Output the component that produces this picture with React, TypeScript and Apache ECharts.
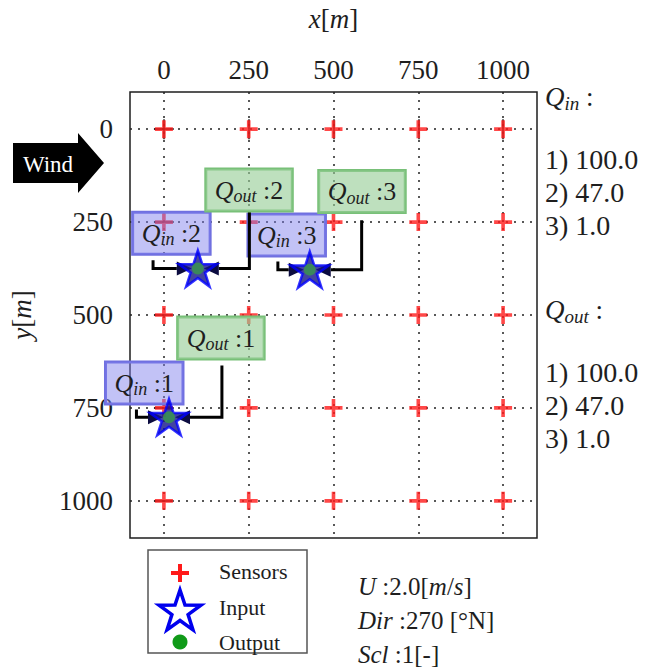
import React, { useEffect, useRef } from "react";
import * as echarts from "echarts";

// ---------- data ----------
const xTicks = [0, 250, 500, 750, 1000];
const yTicks = [0, 250, 500, 750, 1000];
const sensorX = [0, 250, 500, 750, 1000];
const sensorY = [0, 250, 500, 750, 1000];
const inputX = [15, 100, 430];
const inputY = [775, 375, 378];
const outputX = [15, 100, 430];
const outputY = [775, 375, 378];
const qIn = [100.0, 47.0, 1.0];
const qOut = [100.0, 47.0, 1.0];
// annotation label centres and leader-line starts (data units)
const inLabelX = [-58, 22, 362];
const inLabelY = [683, 280, 285];
const outLabelX = [168, 251, 584];
const outLabelY = [562, 164, 168];
const inLeaderX = [-81, -32, 336];
const inLeaderY = [754, 353, 356];
const outLeaderX = [171, 252, 583];
const outLeaderY = [636, 222, 245];
const windSpeed = 2.0;
const windDir = 270;
const scaleVal = 1;
const legendNames = ["Sensors", "Input", "Output"];

const SERIF = "'Liberation Serif', 'Times New Roman', serif";
const INK = "#1e1e1e";

function starPts(cx: number, cy: number, R: number, r: number) {
  const pts: number[][] = [];
  for (let k = 0; k < 10; k++) {
    const ang = -Math.PI / 2 + (k * Math.PI) / 5;
    const rad = k % 2 === 0 ? R : r;
    pts.push([cx + rad * Math.cos(ang), cy + rad * Math.sin(ang)]);
  }
  return pts;
}
const STAR_PATH =
  "path://" +
  starPts(50, 50, 50, 19.1)
    .map((p, i) => (i ? "L" : "M") + p[0].toFixed(2) + "," + p[1].toFixed(2))
    .join(" ") +
  "Z";
const PLUS_PATH = "path://M4,0H6V4H10V6H6V10H4V6H0V4H4Z";

function plusPts(cx: number, cy: number, s: number, t: number) {
  const h = s / 2, w = t / 2;
  return [
    [cx - w, cy - h], [cx + w, cy - h], [cx + w, cy - w], [cx + h, cy - w],
    [cx + h, cy + w], [cx + w, cy + w], [cx + w, cy + h], [cx - w, cy + h],
    [cx - w, cy + w], [cx - h, cy + w], [cx - h, cy - w], [cx - w, cy - w],
  ];
}

const qRich = (size: number, sub: number) => ({
  Q: { fontFamily: SERIF, fontStyle: "italic", fontSize: size, lineHeight: size + 4, fill: INK, color: INK },
  s: { fontFamily: SERIF, fontStyle: "italic", fontSize: sub, lineHeight: sub, verticalAlign: "bottom", fill: INK, color: INK },
  r: { fontFamily: SERIF, fontSize: size, lineHeight: size + 4, fill: INK, color: INK },
  i: { fontFamily: SERIF, fontStyle: "italic", fontSize: size, lineHeight: size + 4, fill: INK, color: INK },
});

export default function App() {
  const ref = useRef<HTMLDivElement>(null);
  useEffect(() => {
    if (!ref.current) return;
    const chart = echarts.init(ref.current, null, { renderer: "svg" });

    const sensorPts: number[][] = [];
    sensorY.forEach((y) => sensorX.forEach((x) => sensorPts.push([x, y])));
    const inputs = inputX.map((x, i) => [x, inputY[i]]);
    const outputs = outputX.map((x, i) => [x, outputY[i]]);
    const ann: number[][] = [];
    inputX.forEach((x, i) =>
      ann.push([x, inputY[i], inLeaderX[i], inLeaderY[i], inLabelX[i], inLabelY[i], 0, i])
    );
    outputX.forEach((x, i) =>
      ann.push([x, outputY[i], outLeaderX[i], outLeaderY[i], outLabelX[i], outLabelY[i], 1, i])
    );

    const tickStyle = { color: INK, width: 1.5 };
    const splitStyle = { color: "#222", width: 1.5, type: [2, 6] as any };

    const annRich = qRich(26, 18);

    const graphic: any[] = [];
    // wind arrow
    graphic.push({
      type: "polygon",
      shape: { points: [[13, 143], [78, 143], [78, 133], [104, 163], [78, 193], [78, 183], [13, 183]] },
      style: { fill: "#000" },
    });
    graphic.push({
      type: "text", x: 48, y: 164,
      style: { text: "Wind", fill: "#fff", fontFamily: SERIF, fontSize: 23, align: "center", verticalAlign: "middle" },
    });
    // right panel
    const rightX = 545;
    const headerRich = qRich(27, 19);
    graphic.push({
      type: "text", x: rightX, y: 97,
      style: { text: "{Q|Q}{s|in}{r| :}", rich: headerRich, align: "left", verticalAlign: "middle" },
    });
    const inRowsY = [159, 192, 225];
    qIn.forEach((v, i) =>
      graphic.push({
        type: "text", x: rightX, y: inRowsY[i],
        style: { text: `${i + 1}) ${v.toFixed(1)}`, fill: INK, fontFamily: SERIF, fontSize: 28, align: "left", verticalAlign: "middle" },
      })
    );
    graphic.push({
      type: "text", x: rightX, y: 310,
      style: { text: "{Q|Q}{s|out}{r| :}", rich: headerRich, align: "left", verticalAlign: "middle" },
    });
    const outRowsY = [372, 405, 438];
    qOut.forEach((v, i) =>
      graphic.push({
        type: "text", x: rightX, y: outRowsY[i],
        style: { text: `${i + 1}) ${v.toFixed(1)}`, fill: INK, fontFamily: SERIF, fontSize: 28, align: "left", verticalAlign: "middle" },
      })
    );
    // legend
    graphic.push({
      type: "rect", shape: { x: 148, y: 550, width: 159, height: 103 },
      style: { fill: "#fff", stroke: "#555", lineWidth: 1.5 },
    });
    graphic.push({ type: "polygon", shape: { points: plusPts(180, 573, 18, 4) }, style: { fill: "#ff1a1a" } });
    graphic.push({
      type: "polygon", shape: { points: starPts(180, 612, 22, 8.5) },
      style: { fill: "#fff", stroke: "#0000ee", lineWidth: 3.5 },
    });
    graphic.push({ type: "circle", shape: { cx: 180, cy: 642, r: 7.5 }, style: { fill: "#109a18" } });
    const legY = [571, 607, 642];
    legendNames.forEach((n, i) =>
      graphic.push({
        type: "text", x: 219, y: legY[i],
        style: { text: n, fill: INK, fontFamily: SERIF, fontSize: 22, align: "left", verticalAlign: "middle" },
      })
    );
    // bottom right parameters
    const pRich = qRich(25, 17);
    graphic.push({
      type: "text", x: 358, y: 586,
      style: { text: `{i|U}{r| :${windSpeed.toFixed(1)}[}{i|m}{r|/}{i|s}{r|]}`, rich: pRich, align: "left", verticalAlign: "middle" },
    });
    graphic.push({
      type: "text", x: 358, y: 620,
      style: { text: `{i|Dir}{r| :${windDir} [°N]}`, rich: pRich, align: "left", verticalAlign: "middle" },
    });
    graphic.push({
      type: "text", x: 358, y: 654,
      style: { text: `{i|Scl}{r| :${scaleVal}[-]}`, rich: pRich, align: "left", verticalAlign: "middle" },
    });

    const nameRich = {
      i: { fontFamily: SERIF, fontStyle: "italic", fontSize: 27, color: INK },
      r: { fontFamily: SERIF, fontSize: 27, color: INK },
    };
    const fmt = (v: number) => String(v);

    chart.setOption({
      animation: false,
      backgroundColor: "#fff",
      grid: {
        left: 123, top: 83, width: 414, height: 455,
        show: true, borderColor: INK, borderWidth: 1.5, backgroundColor: "#fff",
      },
      xAxis: [
        {
          type: "value", position: "top", min: -100, max: 1100,
          name: "{i|x}{r|[}{i|m}{r|]}", nameLocation: "middle", nameGap: 60,
          nameTextStyle: { rich: nameRich },
          axisLine: { show: false },
          axisTick: { show: true, inside: true, length: 10, customValues: xTicks, lineStyle: tickStyle },
          axisLabel: { customValues: xTicks, formatter: fmt, fontFamily: SERIF, fontSize: 27, color: INK, margin: 9 },
          splitLine: { show: true, lineStyle: splitStyle },
        },
        {
          type: "value", position: "bottom", min: -100, max: 1100,
          axisLine: { show: false },
          axisTick: { show: true, inside: true, length: 10, customValues: xTicks, lineStyle: tickStyle },
          axisLabel: { show: false },
          splitLine: { show: false },
        },
      ],
      yAxis: [
        {
          type: "value", position: "left", inverse: true, min: -100, max: 1100,
          name: "{i|y}{r|[}{i|m}{r|]}", nameLocation: "middle", nameGap: 95, nameRotate: 90,
          nameTextStyle: { rich: nameRich },
          axisLine: { show: false },
          axisTick: { show: true, inside: true, length: 10, customValues: yTicks, lineStyle: tickStyle },
          axisLabel: { customValues: yTicks, formatter: fmt, fontFamily: SERIF, fontSize: 27, color: INK, margin: 17 },
          splitLine: { show: true, lineStyle: splitStyle },
        },
        {
          type: "value", position: "right", inverse: true, min: -100, max: 1100,
          axisLine: { show: false },
          axisTick: { show: true, inside: true, length: 10, customValues: yTicks, lineStyle: tickStyle },
          axisLabel: { show: false },
          splitLine: { show: false },
        },
      ],
      series: [
        {
          type: "scatter", name: "Sensors", data: sensorPts, symbol: PLUS_PATH, symbolSize: 18,
          itemStyle: { color: "#ff1a1a" }, z: 2, silent: true,
        },
        {
          type: "custom", name: "annotations", data: ann, z: 3, clip: false, silent: true,
          renderItem: (params: any, api: any) => {
            const pt = api.coord([api.value(0), api.value(1)]);
            const st = api.coord([api.value(2), api.value(3)]);
            const lb = api.coord([api.value(4), api.value(5)]);
            const isIn = api.value(6) === 0;
            const k = api.value(7);
            const dir = st[0] < pt[0] ? 1 : -1;
            const y = pt[1];
            const tipX = pt[0] - dir * 6;
            const baseX = tipX - dir * 15;
            return {
              type: "group",
              children: [
                {
                  type: "polyline",
                  shape: { points: [[st[0], st[1]], [st[0], y], [baseX, y]] },
                  style: { stroke: "#000", lineWidth: 3, fill: null },
                },
                {
                  type: "polygon",
                  shape: { points: [[tipX, y], [baseX, y - 7], [baseX, y + 7]] },
                  style: { fill: "#0c0c40" },
                },
                {
                  type: "text", x: lb[0], y: lb[1],
                  style: {
                    text: `{Q|Q}{s|${isIn ? "in" : "out"}}{r| :${k + 1}}`,
                    rich: annRich, align: "center", verticalAlign: "middle",
                    backgroundColor: isIn ? "rgba(125,125,235,0.47)" : "rgba(150,205,150,0.62)",
                    borderColor: isIn ? "#7070e0" : "#78c078", borderWidth: 1.5,
                    padding: [6, 9, 6, 9],
                  },
                },
              ],
            };
          },
        },
        {
          type: "scatter", name: "Input", data: inputs, symbol: STAR_PATH, symbolSize: 38, symbolKeepAspect: true,
          itemStyle: { color: "#14148a", borderColor: "#0000ff", borderWidth: 2.5 }, z: 4, silent: true,
        },
        {
          type: "scatter", name: "Output", data: outputs, symbol: "circle", symbolSize: 12,
          itemStyle: { color: "#3a9a4a" }, z: 5, silent: true,
        },
      ],
      graphic,
    });
    return () => chart.dispose();
  }, []);
  return (
    <div
      ref={ref}
      style={{ position: "fixed", left: 0, top: 0, width: 659, height: 672, background: "#fff" }}
    />
  );
}
